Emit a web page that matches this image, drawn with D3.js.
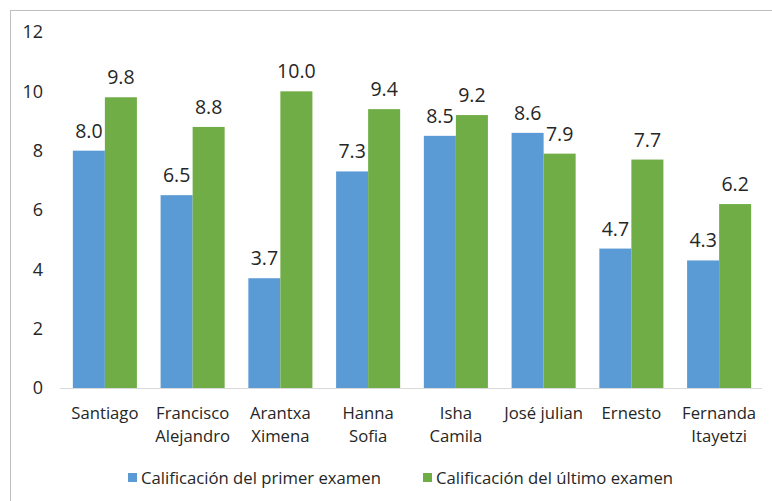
<!DOCTYPE html>
<html><head><meta charset="utf-8">
<script src="https://cdn.jsdelivr.net/npm/d3@7"></script>
<style>body{margin:0;background:#fff}svg{display:block}text{font-family:"Open Sans",sans-serif;fill:#262626}</style>
</head><body><svg id="c" width="772" height="501"></svg>
<script>
const categories = [["Santiago"],["Francisco","Alejandro"],["Arantxa","Ximena"],["Hanna","Sofia"],["Isha","Camila"],["José julian"],["Ernesto"],["Fernanda","Itayetzi"]];
const seriesNames = ["Calificación del primer examen","Calificación del último examen"];
const primer = [8.0,6.5,3.7,7.3,8.5,8.6,4.7,4.3];
const ultimo = [9.8,8.8,10.0,9.4,9.2,7.9,7.7,6.2];
const yTicks = [0,2,4,6,8,10,12];
const colors = ["#5B9BD5","#70AD47"];

const svg = d3.select("#c");
svg.append("rect").attr("x",10.5).attr("y",10.5).attr("width",800).attr("height",600).attr("fill","none").attr("stroke","#bfbfbf");

const x0 = d3.scaleBand().domain(d3.range(categories.length)).range([61,763]).paddingInner(0.27).paddingOuter(0.135);
const x1 = d3.scaleBand().domain([0,1]).range([0,x0.bandwidth()]);
const y = d3.scaleLinear().domain([0,12]).range([388,32]);

const yAxis = d3.axisLeft(y).tickValues(yTicks).tickSize(0).tickPadding(0);
const gy = svg.append("g").attr("transform","translate(43,0)").call(yAxis);
gy.select(".domain").remove();
gy.selectAll("text").style("font-size","18px").attr("fill","#262626");

const data = [primer, ultimo];
data.forEach((vals,s)=>{
  const g = svg.append("g");
  g.selectAll("rect").data(vals).join("rect")
    .attr("x",(d,i)=>x0(i)+x1(s)).attr("width",x1.bandwidth())
    .attr("y",d=>y(d)).attr("height",d=>y(0)-y(d)).attr("fill",colors[s]);
  g.selectAll("text").data(vals).join("text")
    .attr("x",(d,i)=>x0(i)+x1(s)+x1.bandwidth()/2).attr("y",d=>y(d)-13)
    .attr("text-anchor","middle").style("font-size","19.5px").text(d=>d.toFixed(1));
});

const xAxis = d3.axisBottom(x0).tickSize(0).tickFormat("");
const gx = svg.append("g").attr("transform","translate(0,388)").call(xAxis);
gx.select(".domain").attr("stroke","#d9d9d9").attr("d","M60,0.5H762");
gx.selectAll(".tick").each(function(d){
  const t = d3.select(this).append("text").attr("text-anchor","middle").style("font-size","16.7px").attr("fill","#262626");
  categories[d].forEach((line,k)=>t.append("tspan").attr("x",0).attr("y",31+k*23).text(line));
});

const legendX = [128,423];
seriesNames.forEach((n,s)=>{
  svg.append("rect").attr("x",legendX[s]).attr("y",473).attr("width",9).attr("height",9).attr("fill",colors[s]);
  svg.append("text").attr("x",legendX[s]+13).attr("y",484).style("font-size","16.7px").text(n);
});
</script></body></html>
